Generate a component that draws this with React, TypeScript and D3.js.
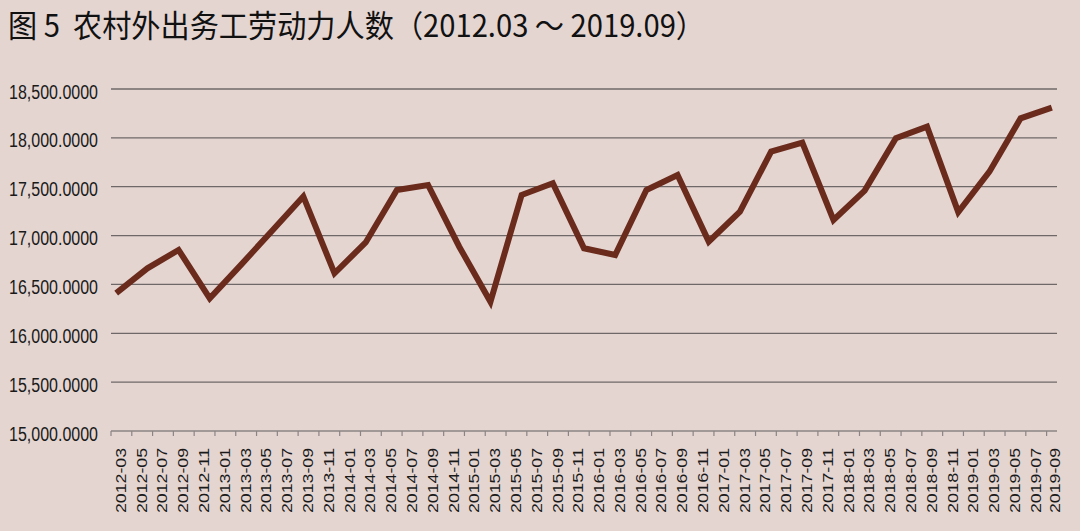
import React from "react";
import * as d3 from "d3";

// quarterly observations (万人)
const periods = [
  "2012-03", "2012-06", "2012-09", "2012-12",
  "2013-03", "2013-06", "2013-09", "2013-12",
  "2014-03", "2014-06", "2014-09", "2014-12",
  "2015-03", "2015-06", "2015-09", "2015-12",
  "2016-03", "2016-06", "2016-09", "2016-12",
  "2017-03", "2017-06", "2017-09", "2017-12",
  "2018-03", "2018-06", "2018-09", "2018-12",
  "2019-03", "2019-06", "2019-09",
];
const workers = [
  16412, 16665, 16853, 16358,
  16700, 17050, 17400, 16614,
  16930, 17467, 17518, 16886,
  16323, 17415, 17535, 16870,
  16801, 17467, 17620, 16938,
  17245, 17859, 17951, 17160,
  17460, 17996, 18115, 17240,
  17654, 18200, 18310,
];

// category labels on the x axis (every second month)
const xLabels = [
  "2012-03", "2012-05", "2012-07", "2012-09", "2012-11",
  "2013-01", "2013-03", "2013-05", "2013-07", "2013-09", "2013-11",
  "2014-01", "2014-03", "2014-05", "2014-07", "2014-09", "2014-11",
  "2015-01", "2015-03", "2015-05", "2015-07", "2015-09", "2015-11",
  "2016-01", "2016-03", "2016-05", "2016-07", "2016-09", "2016-11",
  "2017-01", "2017-03", "2017-05", "2017-07", "2017-09", "2017-11",
  "2018-01", "2018-03", "2018-05", "2018-07", "2018-09", "2018-11",
  "2019-01", "2019-03", "2019-05", "2019-07", "2019-09",
];
const yTicks = [15000, 15500, 16000, 16500, 17000, 17500, 18000, 18500];

const title = "图 5  农村外出务工劳动力人数（2012.03 ～ 2019.09）";

const W = 1080;
const H = 531;
const BG = "#e4d5d1";
const LINE = "#6b2b1c";
const STRETCH = 1.3; // the source image is stretched vertically

// months since 2012-03
const monthIndex = (s: string) => {
  const [y, m] = s.split("-").map(Number);
  return (y - 2012) * 12 + (m - 3);
};

const App: React.FC = () => {
  const totalMonths = monthIndex(xLabels[xLabels.length - 1]) + 1; // 91

  const x = d3.scaleLinear().domain([0, totalMonths]).range([111, 1057]);
  const y = d3.scaleLinear().domain([15000, 18500]).range([431, 89]);

  const fmt = d3.format(",.4f");

  const line = d3
    .line<number>()
    .x((_, i) => x(monthIndex(periods[i]) + 0.5))
    .y((d) => y(d));

  return (
    <svg
      width={W}
      height={H}
      style={{ position: "fixed", left: 0, top: 0, background: BG }}
    >
      <rect width={W} height={H} fill={BG} />

      <text
        transform={`translate(8, 37) scale(1, ${1.18})`}
        fontFamily="'Noto Sans CJK SC', 'Noto Sans', sans-serif"
        fontSize={26}
        fill="#111"
        textLength={697}
        lengthAdjust="spacingAndGlyphs"
        style={{ whiteSpace: "pre" }}
      >
        {title}
      </text>

      {/* gridlines */}
      {yTicks.slice(1).map((t) => (
        <line
          key={`g-${t}`}
          x1={x(0)}
          x2={x(totalMonths)}
          y1={y(t)}
          y2={y(t)}
          stroke="#6f6868"
          strokeWidth={1.3}
        />
      ))}

      {/* y labels */}
      {yTicks.map((t) => (
        <text
          key={`yl-${t}`}
          transform={`translate(98, ${y(t) + 9.5}) scale(1, ${STRETCH})`}
          textAnchor="end"
          fontFamily="'Liberation Sans', Arial, sans-serif"
          fontSize={16}
          fill="#1a1a1a"
        >
          {fmt(t)}
        </text>
      ))}

      {/* x axis */}
      <line
        x1={x(0)}
        x2={x(totalMonths)}
        y1={y(15000)}
        y2={y(15000)}
        stroke="#8a8484"
        strokeWidth={1.3}
      />
      {xLabels.map((lab) => {
        const m = monthIndex(lab);
        return (
          <line
            key={`t-${lab}`}
            x1={x(m)}
            x2={x(m)}
            y1={y(15000)}
            y2={y(15000) + 5}
            stroke="#8a8484"
            strokeWidth={1.2}
          />
        );
      })}
      {xLabels.map((lab) => {
        const m = monthIndex(lab);
        const cx = Math.min(x(m + 1), x(totalMonths) - 2) - 0.5;
        return (
          <text
            key={`xl-${lab}`}
            transform={`translate(${cx + 5}, 448) rotate(-90)`}
            textAnchor="end"
            fontFamily="'Liberation Sans', Arial, sans-serif"
            fontSize={14}
            fill="#1a1a1a"
            textLength={65}
            lengthAdjust="spacingAndGlyphs"
          >
            {lab}
          </text>
        );
      })}

      <path
        d={line(workers) ?? ""}
        fill="none"
        stroke={LINE}
        strokeWidth={6}
        strokeLinejoin="miter"
      />
    </svg>
  );
};

export default App;
